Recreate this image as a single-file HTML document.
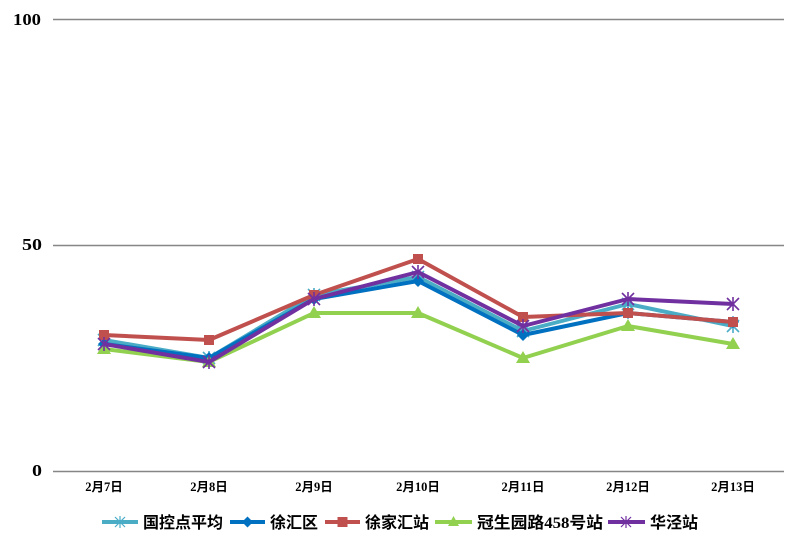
<!DOCTYPE html>
<html><head><meta charset="utf-8"><style>
html,body{margin:0;padding:0;background:#fff;}
svg{display:block;}
.ax{font-family:"Liberation Serif","Noto Serif CJK SC",serif;font-weight:bold;fill:#000;}
.cat{font-family:"Liberation Serif","Noto Sans CJK SC",serif;font-weight:bold;font-size:12.5px;fill:#000;}
.lg{font-family:"Liberation Serif","Noto Sans CJK SC",sans-serif;font-weight:bold;font-size:16px;fill:#000;}
</style></head><body>
<svg width="804" height="550" viewBox="0 0 804 550" xmlns="http://www.w3.org/2000/svg">
<defs>
<marker id="mT" markerUnits="userSpaceOnUse" markerWidth="14" markerHeight="14" refX="7" refY="7" overflow="visible">
<g stroke="#4BACC6" stroke-width="1.6"><line x1="1" y1="1" x2="13" y2="13"/><line x1="13" y1="1" x2="1" y2="13"/><line x1="7" y1="0" x2="7" y2="14"/></g></marker>
<marker id="mB" markerUnits="userSpaceOnUse" markerWidth="12" markerHeight="12" refX="6" refY="6" overflow="visible">
<polygon points="6,0 12,6 6,12 0,6" fill="#0070C0"/></marker>
<marker id="mR" markerUnits="userSpaceOnUse" markerWidth="12" markerHeight="12" refX="6" refY="6" overflow="visible">
<rect x="1" y="1" width="10" height="10" fill="#C0504D"/></marker>
<marker id="mG" markerUnits="userSpaceOnUse" markerWidth="14" markerHeight="14" refX="7" refY="7" overflow="visible">
<polygon points="7,0 14,12 0,12" fill="#92D050"/></marker>
<marker id="mP" markerUnits="userSpaceOnUse" markerWidth="14" markerHeight="14" refX="7" refY="7" overflow="visible">
<g stroke="#7030A0" stroke-width="1.6"><line x1="1" y1="1" x2="13" y2="13"/><line x1="13" y1="1" x2="1" y2="13"/><line x1="7" y1="0" x2="7" y2="14"/></g></marker>
</defs>

<line x1="53" y1="19.5" x2="784" y2="19.5" stroke="#868686" stroke-width="1.5"/>
<line x1="53" y1="245.5" x2="784" y2="245.5" stroke="#868686" stroke-width="1.5"/>
<line x1="53" y1="471.5" x2="784" y2="471.5" stroke="#868686" stroke-width="1.5"/>

<text class="ax" x="13" y="25" font-size="17" textLength="28" lengthAdjust="spacingAndGlyphs">100</text>
<text class="ax" x="22" y="250" font-size="17" textLength="20" lengthAdjust="spacingAndGlyphs">50</text>
<text class="ax" x="32" y="476" font-size="17" textLength="10" lengthAdjust="spacingAndGlyphs">0</text>

<text class="cat" x="104" y="491" text-anchor="middle">2月7日</text>
<text class="cat" x="209" y="491" text-anchor="middle">2月8日</text>
<text class="cat" x="314" y="491" text-anchor="middle">2月9日</text>
<text class="cat" x="418" y="491" text-anchor="middle">2月10日</text>
<text class="cat" x="523" y="491" text-anchor="middle">2月11日</text>
<text class="cat" x="628" y="491" text-anchor="middle">2月12日</text>
<text class="cat" x="733" y="491" text-anchor="middle">2月13日</text>

<g fill="none" stroke-width="4" stroke-linejoin="round">
<polyline stroke="#4BACC6" points="104,340 209,358 314,295 418,277 523,331 628,304 733,326" marker-start="url(#mT)" marker-mid="url(#mT)" marker-end="url(#mT)"/>
<polyline stroke="#0070C0" points="104,344 209,358 314,299 418,281 523,335 628,313 733,322" marker-start="url(#mB)" marker-mid="url(#mB)" marker-end="url(#mB)"/>
<polyline stroke="#C0504D" points="104,335 209,340 314,295 418,259 523,317 628,313 733,322" marker-start="url(#mR)" marker-mid="url(#mR)" marker-end="url(#mR)"/>
<polyline stroke="#92D050" points="104,349 209,362 314,313 418,313 523,358 628,326 733,344" marker-start="url(#mG)" marker-mid="url(#mG)" marker-end="url(#mG)"/>
<polyline stroke="#7030A0" points="104,344 209,362 314,299 418,272 523,326 628,299 733,304" marker-start="url(#mP)" marker-mid="url(#mP)" marker-end="url(#mP)"/>
</g>

<g stroke-width="4">
<line x1="102" y1="522" x2="138" y2="522" stroke="#4BACC6"/>
<line x1="230" y1="522" x2="265" y2="522" stroke="#0070C0"/>
<line x1="325" y1="522" x2="360" y2="522" stroke="#C0504D"/>
<line x1="435" y1="522" x2="472" y2="522" stroke="#92D050"/>
<line x1="608" y1="522" x2="645" y2="522" stroke="#7030A0"/>
</g>
<g stroke="#4BACC6" stroke-width="1.2"><line x1="115" y1="517" x2="125" y2="527"/><line x1="125" y1="517" x2="115" y2="527"/><line x1="120" y1="516" x2="120" y2="528"/></g>
<polygon points="247.5,516.5 253,522 247.5,527.5 242,522" fill="#0070C0"/>
<rect x="337.5" y="517" width="10" height="10" fill="#C0504D"/>
<polygon points="453.5,516 459,526 448,526" fill="#92D050"/>
<g stroke="#7030A0" stroke-width="1.2"><line x1="621" y1="517" x2="631" y2="527"/><line x1="631" y1="517" x2="621" y2="527"/><line x1="626" y1="516" x2="626" y2="528"/></g>

<text class="lg" x="143" y="528">国控点平均</text>
<text class="lg" x="270" y="528">徐汇区</text>
<text class="lg" x="365" y="528">徐家汇站</text>
<text class="lg" x="477" y="528" textLength="126" lengthAdjust="spacingAndGlyphs">冠生园路458号站</text>
<text class="lg" x="650" y="528">华泾站</text>
</svg>
</body></html>
